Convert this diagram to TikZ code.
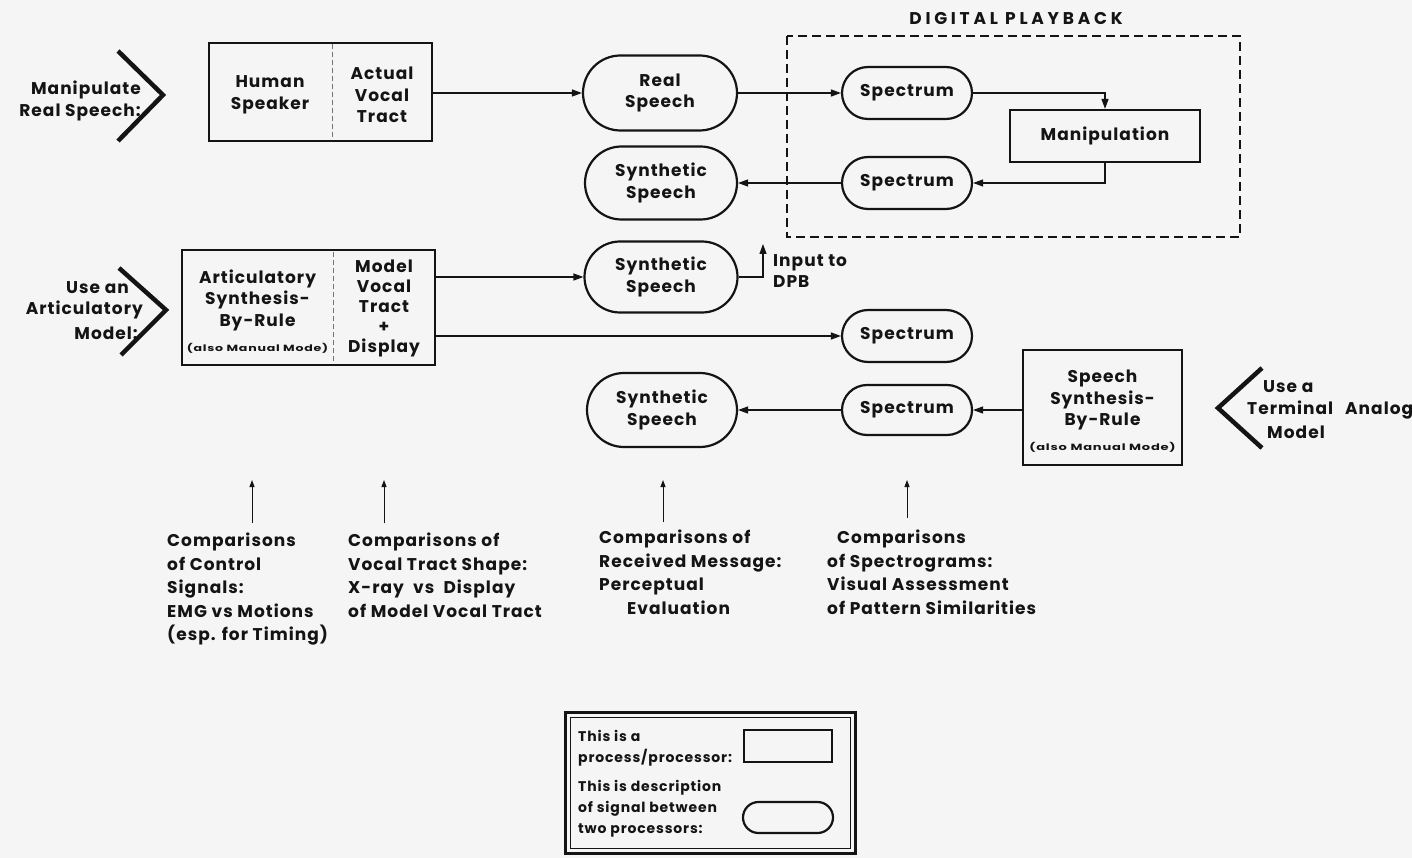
\documentclass[tikz,border=0pt]{standalone}
\usepackage{fontspec}
\usepackage{graphicx}
\setmainfont{Poppins}[LetterSpace=6]
\usetikzlibrary{arrows.meta,shapes.misc,calc}
\definecolor{paper}{RGB}{245,245,245}
\definecolor{ink}{RGB}{20,20,20}
\begin{document}
\begin{tikzpicture}[x=1pt,y=-1pt,
  every node/.style={inner sep=0pt, text=ink},
  txt/.style={font=\fontsize{17}{21.5}\selectfont\bfseries, align=center},
  btxt/.style={font=\fontsize{17}{23.5}\selectfont\bfseries, align=left, anchor=north west},
  ltxt/.style={font=\fontsize{14}{21}\selectfont\bfseries, align=left, anchor=west},
  tiny/.style={font=\fontsize{9}{10}\selectfont\bfseries},
  proc/.style={draw=ink, line width=2.2pt, rectangle},
  sig/.style={draw=ink, line width=2.2pt, rounded rectangle, txt},
  conn/.style={draw=ink, line width=1.3pt, -{Triangle[length=10pt,width=7pt]}},
  up/.style={draw=ink, line width=1pt, -{Triangle[length=7pt,width=5pt]}},
  chev/.style={draw=ink, line width=4.5pt, line join=miter},
  divider/.style={draw=ink!60, line width=1pt, dash pattern=on 5pt off 3pt},
  dpbframe/.style={draw=ink, line width=2.2pt, dash pattern=on 9pt off 5pt}
]
\fill[paper] (0,0) rectangle (1412,858);
\useasboundingbox (0,0) rectangle (1412,858);

% ---------- row 1 : real speech ----------
\draw[chev] (118,51) -- (163,95) -- (118,141);
\node[txt, align=right, anchor=east] (lab1) at (141,101) {Manipulate\\Real Speech:};

\node[proc, minimum width=223pt, minimum height=98pt] (hs) at (320.5,92) {};
\draw[divider] (332,44) -- (332,140);
\node[txt] (hst) at (270,95) {Human\\Speaker};
\node[txt] (avt) at (382,95) {Actual\\Vocal\\Tract};

\node[sig, minimum width=154pt, minimum height=75pt] (real) at (660,93) {Real\\Speech};
\node[sig, minimum width=152pt, minimum height=73pt] (syn1) at (661,183) {Synthetic\\Speech};

% digital playback
\draw[dpbframe] (787,36) rectangle (1240,237);
\node[font=\fontsize{17}{18}\selectfont\bfseries\addfontfeature{LetterSpace=22}] (dpbt) at (1016,19) {DIGITAL PLAYBACK};
\node[sig, minimum width=130pt, minimum height=52pt] (sp1) at (907,93) {Spectrum};
\node[sig, minimum width=130pt, minimum height=52pt] (sp2) at (907,183) {Spectrum};
\node[proc, txt, minimum width=190pt, minimum height=52pt] (man) at (1105,136) {Manipulation};

\draw[conn] (hs.east |- real.west) -- (real.west);
\draw[conn] (real.east) -- (sp1.west);
\draw[conn] (sp1.east) -| (man.north);
\draw[conn] (man.south) |- (sp2.east);
\draw[conn] (sp2.west) -- (syn1.east);

% ---------- row 2 : articulatory model ----------
\draw[chev] (119,268) -- (166,310) -- (121,355);
\node[txt, anchor=east] (lab2a) at (129,288) {Use an};
\node[txt, anchor=east] (lab2b) at (143,310) {Articulatory};
\node[txt, anchor=east] (lab2c) at (138,333) {Model:};

\node[proc, minimum width=253pt, minimum height=115pt] (asr) at (308.5,307.5) {};
\draw[divider] (333,252) -- (333,363);
\node[txt] (asrt) at (257.5,300) {Articulatory\\Synthesis-\\By-Rule};
\node[tiny] (asrm) at (257.5,348) {\scalebox{1.4}[1]{(also Manual Mode)}};
\node[txt, font=\fontsize{17}{20}\selectfont\bfseries] (mvt) at (384,308) {Model\\Vocal\\Tract\\+\\Display};

\node[sig, minimum width=153pt, minimum height=71pt] (syn2) at (661,277) {Synthetic\\Speech};
\node[sig, minimum width=130pt, minimum height=52pt] (sp3) at (907,336) {Spectrum};
\coordinate (dpb) at (763,244);
\node[txt, align=left, anchor=west] (inp) at (773,271) {Input to\\DPB};

\draw[conn] (asr.east |- syn2.west) -- (syn2.west);
\draw[conn] (asr.east |- sp3.west) -- (sp3.west);
\draw[conn] (syn2.east) -| (dpb);

% ---------- row 3 : terminal analog ----------
\node[sig, minimum width=150pt, minimum height=74pt] (syn3) at (662,410) {Synthetic\\Speech};
\node[sig, minimum width=130pt, minimum height=50pt] (sp4) at (907,410) {Spectrum};
\node[proc, minimum width=159pt, minimum height=115pt] (ssr) at (1102.5,407.5) {};
\node[txt] (ssrt) at (1102.5,400) {Speech\\Synthesis-\\By-Rule};
\node[tiny] (ssrm) at (1102.5,447) {\scalebox{1.45}[1]{(also Manual Mode)}};

\draw[chev] (1262,368) -- (1218,408) -- (1262,448);
\node[txt, anchor=west] (lab3a) at (1263,387) {Use a};
\node[txt, anchor=west] (lab3b) at (1247,410) {Terminal\hspace{12pt}Analog};
\node[txt, anchor=west] (lab3c) at (1267,432) {Model};

\draw[conn] (ssr.west |- sp4.east) -- (sp4.east);
\draw[conn] (sp4.west) -- (syn3.east);

% ---------- comparisons ----------
\coordinate (c1b) at (252,523); \coordinate (c1t) at (252,480);
\coordinate (c2b) at (384,523); \coordinate (c2t) at (384,480);
\coordinate (c3b) at (663,522); \coordinate (c3t) at (663,480);
\coordinate (c4b) at (907,518); \coordinate (c4t) at (907,480);
\draw[up] (c1b) -- (c1t);
\draw[up] (c2b) -- (c2t);
\draw[up] (c3b) -- (c3t);
\draw[up] (c4b) -- (c4t);

\node[btxt] (cmp1) at (167,533) {Comparisons\\of Control\\Signals:\\EMG vs Motions\\(esp. for Timing)};
\node[btxt] (cmp2) at (348,533) {Comparisons of\\Vocal Tract Shape:\\X-ray\ \ vs\ \ Display\\of Model Vocal Tract};
\node[btxt] (cmp3) at (599,530) {Comparisons of\\Received Message:\\Perceptual\\\hspace*{28pt}Evaluation};
\node[btxt] (cmp4) at (827,530) {\hspace*{10pt}Comparisons\\of Spectrograms:\\Visual Assessment\\of Pattern Similarities};

% ---------- legend ----------
\draw[draw=ink, line width=3pt] (565,712) rectangle (855,853);
\draw[draw=ink, line width=0.8pt] (570,717) rectangle (850,848);
\node[ltxt] (leg1) at (578,748) {This is a\\process/processor:};
\node[ltxt] (leg2) at (578,809) {This is description\\of signal between\\two processors:};
\node[proc, minimum width=88pt, minimum height=32pt] (legp) at (788,746) {};
\node[sig, minimum width=90pt, minimum height=31pt] (legs) at (788,817.5) {};
\end{tikzpicture}
\end{document}
